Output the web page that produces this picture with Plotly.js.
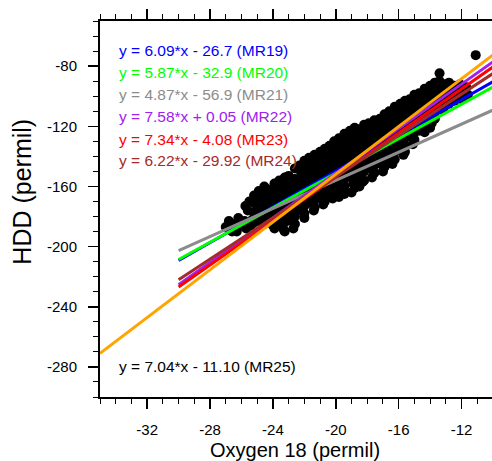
<!DOCTYPE html>
<html>
<head>
<meta charset="utf-8">
<script src="https://cdn.plot.ly/plotly-3.0.1.min.js"></script>
<style>
html,body{margin:0;padding:0;overflow:hidden;background:#fff;}
#chart{width:500px;height:461px;}
</style>
</head>
<body>
<div id="chart"></div>
<script>
// Scatter data: Oxygen 18 (permil) vs HDD (permil)
const oxygen18 = [
 -26.8,-26.6,-27.0,
 -26.45,-26.45,
 -26.2,-26.0,-26.3,-25.8,
 -25.75,-25.7,
 -25.5,-25.6,-25.3,-25.4,
 -25.2,-25.2,-25.2,-25.2,
 -24.9,-25.0,-24.8,-24.9,-24.7,
 -24.55,-24.55,-24.55,-24.55,-24.55,-24.55,
 -24.3,-24.2,-24.1,-24.3,-24.2,-24.0,
 -23.9,-23.9,-23.9,-23.9,-23.9,-23.9,-23.9,
 -23.6,-23.5,-23.7,-23.6,-23.4,-23.6,-23.5,-23.3,
 -23.25,-23.25,-23.25,-23.25,-23.25,-23.25,-23.25,-23.25,
 -23.0,-22.9,-23.0,-22.8,-22.9,-23.0,-22.8,-22.7,
 -22.6,-22.6,-22.6,-22.6,-22.6,-22.6,-22.6,-22.6,
 -22.3,-22.2,-22.4,-22.3,-22.1,-22.3,-22.2,-22.0,
 -22.0,-22.0,-22.0,-22.0,-22.0,-22.0,-22.0,-22.0,
 -21.7,-21.6,-21.8,-21.7,-21.5,-21.7,-21.6,-21.4,
 -21.35,-21.35,-21.35,-21.35,-21.35,-21.35,-21.35,-21.35,
 -21.0,-21.1,-20.9,-21.0,-21.1,-20.9,-21.0,-20.8,
 -20.7,-20.7,-20.7,-20.7,-20.7,-20.7,-20.7,-20.7,
 -20.4,-20.3,-20.5,-20.4,-20.2,-20.4,-20.3,-20.2,
 -20.1,-20.1,-20.1,-20.1,-20.1,-20.1,-20.1,-20.1,
 -19.8,-19.7,-19.9,-19.8,-19.6,-19.8,-19.7,-19.6,-19.8,
 -19.45,-19.45,-19.45,-19.45,-19.45,-19.45,-19.45,-19.45,-19.45,
 -19.1,-19.2,-19.0,-19.1,-19.2,-19.0,-19.1,-18.9,-19.0,
 -18.8,-18.8,-18.8,-18.8,-18.8,-18.8,-18.8,-18.8,-18.8,
 -18.5,-18.4,-18.6,-18.5,-18.3,-18.5,-18.4,-18.3,-18.5,
 -18.2,-18.2,-18.2,-18.2,-18.2,-18.2,-18.2,-18.2,
 -17.9,-17.8,-18.0,-17.9,-17.7,-17.9,-17.8,-17.7,
 -17.55,-17.55,-17.55,-17.55,-17.55,-17.55,-17.55,-17.55,
 -17.2,-17.1,-17.3,-17.2,-17.0,-17.2,-17.1,-17.0,
 -16.9,-16.9,-16.9,-16.9,-16.9,-16.9,-16.9,-16.9,
 -16.6,-16.5,-16.7,-16.6,-16.4,-16.6,-16.5,-16.4,
 -16.25,-16.25,-16.25,-16.25,-16.25,-16.25,-16.25,-16.25,
 -15.9,-16.0,-15.8,-15.9,-16.0,-15.8,-15.9,-15.7,
 -15.6,-15.6,-15.6,-15.6,-15.6,-15.6,-15.6,-15.6,
 -15.3,-15.4,-15.2,-15.3,-15.4,-15.2,-15.1,
 -15.0,-15.0,-15.0,-15.0,-15.0,-15.0,-15.0,
 -14.7,-14.6,-14.8,-14.7,-14.5,-14.7,
 -14.35,-14.35,-14.35,-14.35,-14.35,-14.35,-14.35,
 -14.0,-14.1,-13.9,-14.0,-14.1,-13.9,-14.0,
 -13.7,-13.7,-13.7,-13.7,-13.7,-13.7,
 -13.4,-13.3,-13.5,-13.4,-13.2,
 -13.1,-13.1,-13.1,-13.1,
 -12.8,-12.7,-12.9,-12.8,
 -12.45,-12.45,-12.45,
 -12.1,-12.2,-12.0,
 -11.9,-11.9,
 -11.7,-11.6,
 -11.1,-13.4
];
const hdd = [
 -183,-190,-187,
 -185,-188,
 -181,-186,-190,-183,
 -173,-188,
 -170,-176,-182,-186,
 -166,-171,-177,-184,
 -163,-168,-174,-179,-184,
 -160,-165,-170,-175,-180,-185,
 -162,-167,-172,-177,-182,-186,
 -158,-164,-169,-174,-179,-184,-188,
 -156,-161,-166,-171,-176,-181,-186,-189,
 -154,-159,-164,-169,-174,-179,-184,-190,
 -153,-158,-163,-168,-173,-178,-183,-188,
 -148,-155,-160,-165,-170,-175,-180,-185,
 -146,-151,-156,-161,-166,-171,-176,-181,
 -143,-148,-153,-158,-163,-168,-173,-178,
 -141,-146,-151,-156,-161,-166,-171,-176,
 -139,-144,-149,-154,-159,-164,-169,-174,
 -137,-142,-147,-152,-157,-162,-167,-172,
 -135,-140,-145,-150,-155,-160,-165,-170,
 -133,-138,-143,-148,-153,-158,-163,-168,
 -130,-135,-140,-145,-150,-155,-160,-165,
 -128,-133,-138,-143,-148,-153,-158,-163,-167,
 -125,-130,-135,-140,-145,-150,-155,-160,-165,
 -123,-128,-133,-138,-143,-148,-153,-158,-164,
 -121,-125,-130,-135,-140,-145,-150,-155,-161,
 -122,-127,-132,-137,-142,-147,-152,-157,-160,
 -119,-125,-130,-135,-140,-145,-150,-156,
 -118,-123,-128,-133,-138,-143,-148,-154,
 -116,-121,-126,-131,-136,-141,-146,-151,
 -115,-120,-125,-130,-135,-140,-145,-150,
 -112,-117,-122,-127,-132,-137,-142,-147,
 -110,-115,-120,-125,-130,-135,-140,-145,
 -107,-112,-117,-122,-127,-132,-137,-142,
 -105,-110,-115,-120,-125,-130,-135,-139,
 -103,-108,-113,-118,-123,-128,-133,-137,
 -102,-107,-112,-117,-122,-127,-132,
 -99,-104,-109,-114,-119,-124,-129,
 -98,-103,-108,-113,-118,-123,
 -95,-100,-105,-110,-115,-120,-124,
 -93,-98,-103,-108,-113,-118,-121,
 -91,-96,-101,-106,-111,-115,
 -90,-95,-100,-105,-109,
 -92,-97,-102,-107,
 -91,-96,-101,-105,
 -93,-98,-103,
 -92,-97,-102,
 -95,-100,
 -94,-99,
 -72.7,-84.7
];

// Regression lines (end points)
const fitX = [-30, -10];
const fitX25 = [-35, -10];
const mr19 = [-209.2, -90.4];
const mr20 = [-208.6, -93.8];
const mr21 = [-202.6, -109.2];
const mr22 = [-225.3, -77.1];
const mr23 = [-226.8, -80.5];
const mr24 = [-222.0, -84.9];
const mr25 = [-271.0, -72.5];

const lineLabels = [
 "y = 6.09*x - 26.7 (MR19)",
 "y = 5.87*x - 32.9 (MR20)",
 "y = 4.87*x - 56.9 (MR21)",
 "y = 7.58*x + 0.05 (MR22)",
 "y = 7.34*x - 4.08 (MR23)",
 "y = 6.22*x - 29.92 (MR24)",
 "y = 7.04*x - 11.10 (MR25)"
];
const lineColors = ["#0000ff","#00ff00","#8c8c8c","#a020f0","#ff0000","#a52a2a","#ffa500"];

const xTickVals = [-32, -28, -24, -20, -16, -12];
const xTickText = ["-32", "-28", "-24", "-20", "-16", "-12"];
const yTickVals = [-280, -240, -200, -160, -120, -80];
const yTickText = ["-280", "-240", "-200", "-160", "-120", "-80"];

const FONT = "Liberation Sans, Arial, Helvetica, sans-serif";

const traces = [{
  x: oxygen18, y: hdd, type: "scatter", mode: "markers",
  marker: {color: "#000", size: 10, line: {width: 0}},
  hoverinfo: "skip"
}];
const fits = [mr19, mr20, mr21, mr22, mr23, mr24];
fits.forEach((ys, i) => {
  traces.push({x: fitX, y: ys, type: "scatter", mode: "lines",
    line: {color: lineColors[i], width: 3}, hoverinfo: "skip"});
});
traces.push({x: fitX25, y: mr25, type: "scatter", mode: "lines",
  line: {color: lineColors[6], width: 3}, hoverinfo: "skip"});

const labelY = [0.921, 0.8636, 0.805, 0.7455, 0.686, 0.6277, 0.0806];
const annotations = lineLabels.map((t, i) => ({
  text: t, xref: "paper", yref: "paper", x: 0.0425, y: labelY[i],
  xanchor: "left", yanchor: "middle", showarrow: false,
  font: {family: FONT, size: 15.5, color: i === 6 ? "#000" : lineColors[i]}
}));
annotations.push({
  text: "Oxygen 18 (permil)", xref: "paper", yref: "paper", x: 0.495, y: -0.141,
  xanchor: "center", yanchor: "middle", showarrow: false,
  font: {family: FONT, size: 20, color: "#000"}
});
annotations.push({
  text: "HDD (permil)", xref: "paper", yref: "paper", x: -0.197, y: 0.545,
  xanchor: "center", yanchor: "middle", showarrow: false, textangle: -90,
  font: {family: FONT, size: 25, color: "#000"}
});

const axisCommon = {
  showline: true, linewidth: 2, linecolor: "#000", mirror: "ticks",
  ticks: "outside", ticklen: 10, tickwidth: 1.5, tickcolor: "#000",
  showgrid: false, zeroline: false, tickmode: "array",
  tickfont: {family: FONT, size: 15, color: "#000"}, ticklabelstandoff: 8
};

const layout = {
  width: 500, height: 461,
  margin: {l: 100, r: 7, t: 21, b: 64},
  paper_bgcolor: "#fff", plot_bgcolor: "#fff",
  showlegend: false,
  xaxis: Object.assign({}, axisCommon, {
    range: [-35, -10], tickvals: xTickVals, ticktext: xTickText,
    minor: {tickmode: "linear", tick0: -35, dtick: 1, ticks: "outside", ticklen: 5, tickwidth: 1, tickcolor: "#000", showgrid: false}
  }),
  yaxis: Object.assign({}, axisCommon, {
    range: [-300, -50], tickvals: yTickVals, ticktext: yTickText,
    minor: {tickmode: "linear", tick0: -300, dtick: 10, ticks: "outside", ticklen: 5, tickwidth: 1, tickcolor: "#000", showgrid: false}
  }),
  annotations: annotations
};

Plotly.newPlot("chart", traces, layout, {staticPlot: true, displayModeBar: false});
</script>
</body>
</html>
